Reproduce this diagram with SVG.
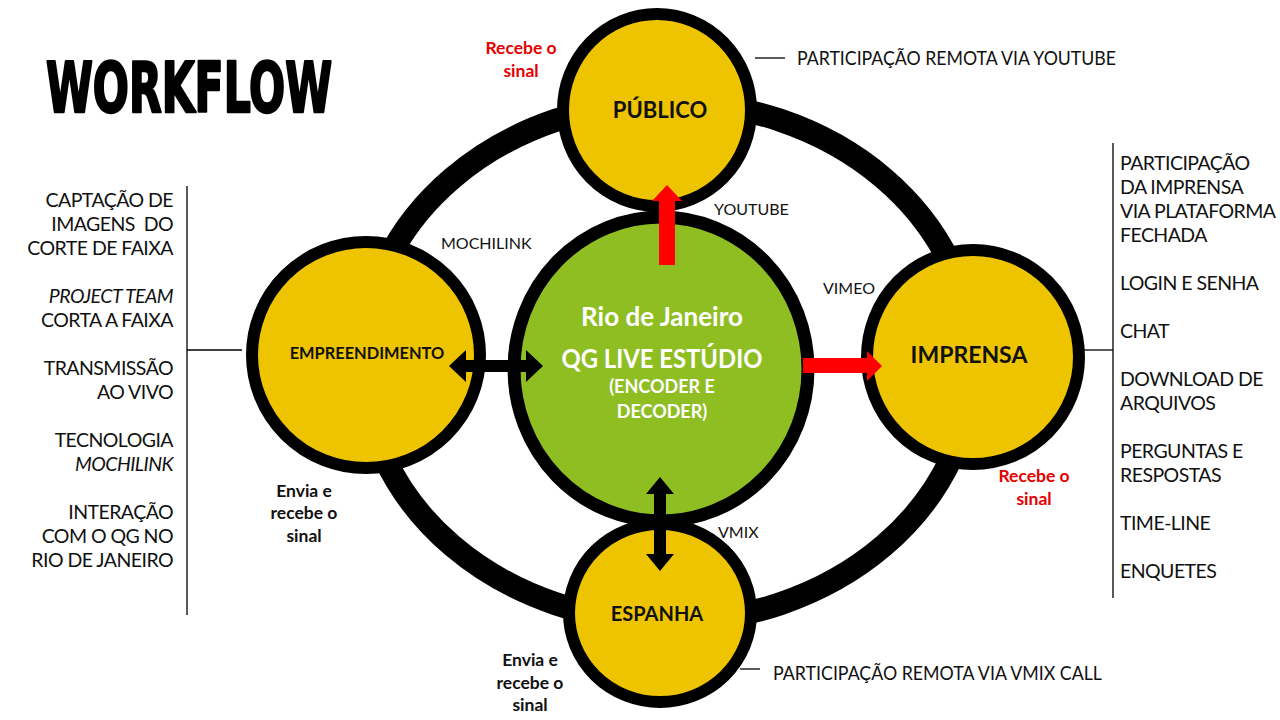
<svg xmlns="http://www.w3.org/2000/svg" width="1280" height="720" viewBox="0 0 1280 720">
<style>
.bg{fill:#ffffff}
.ring{fill:none;stroke:#000;stroke-width:23}
.node{fill:#EEC400;stroke:#000;stroke-width:12}
.hub{fill:#8FBE22;stroke:#000;stroke-width:13}
.red{fill:#FF0000}
.blk{fill:#000}
.rule{stroke:#000;stroke-width:1.3;fill:none}
text{font-family:Lato,"Open Sans","Liberation Sans",sans-serif}
.title{font-family:"DejaVu Sans Condensed","DejaVu Sans",sans-serif;font-weight:bold;font-size:70px;fill:#000;stroke:#000;stroke-width:2.5px;stroke-linejoin:round}
.list{font-size:19.5px;fill:#111;letter-spacing:-0.55px}
.lbl{font-size:16px;fill:#111}
.note{font-size:20px;fill:#111}
.nt{font-weight:bold;fill:#111;text-anchor:middle}
.sig{font-weight:bold;font-size:17.5px;text-anchor:middle}
.w{fill:#fff;font-weight:bold;text-anchor:middle}
.pre{white-space:pre}
</style>
<rect class="bg" x="0" y="0" width="1280" height="720"/>
<text class="title" x="46" y="112" textLength="286" lengthAdjust="spacingAndGlyphs">WORKFLOW</text>

<ellipse class="ring" cx="668" cy="362" rx="305" ry="260"/>

<g id="hub">
<ellipse class="hub" cx="661" cy="369" rx="147" ry="152"/>
<text class="w" x="662" y="326" font-size="26">Rio de Janeiro</text>
<text class="w" x="662" y="368" font-size="26" textLength="201" lengthAdjust="spacingAndGlyphs">QG LIVE ESTÚDIO</text>
<text class="w" x="662" y="393" font-size="18">(ENCODER E</text>
<text class="w" x="662" y="418" font-size="18">DECODER)</text>
</g>
<g id="publico">
<ellipse class="node" cx="657" cy="110" rx="94" ry="96"/>
<text class="nt" x="660" y="118" font-size="22">PÚBLICO</text>
</g>
<g id="empreendimento">
<ellipse class="node" cx="366" cy="355" rx="114" ry="113"/>
<text class="nt" x="367" y="359" font-size="16.4">EMPREENDIMENTO</text>
</g>
<g id="imprensa">
<ellipse class="node" cx="973" cy="357" rx="106" ry="107"/>
<text class="nt" x="969" y="363" font-size="23">IMPRENSA</text>
</g>
<g id="espanha">
<ellipse class="node" cx="660" cy="613" rx="91" ry="89"/>
<text class="nt" x="657" y="621" font-size="20">ESPANHA</text>
</g>

<g id="connectors">
<polygon class="red" points="659,265 675,265 675,201 682,201 667,185 652,201 659,201"/>
<polygon class="red" points="803,358 867,358 867,351 882,366 867,381 867,373 803,373"/>
<polygon class="blk" points="449,366 466,350 466,360 526,360 526,350 543,366 526,382 526,372 466,372 466,382"/>
<polygon class="blk" points="660,477 674,494 666,494 666,554 674,554 660,571 646,554 654,554 654,494 646,494"/>
<text class="lbl" x="714" y="215">YOUTUBE</text>
<text class="lbl" x="441" y="249">MOCHILINK</text>
<text class="lbl" x="823" y="294">VIMEO</text>
<text class="lbl" x="718" y="538">VMIX</text>
</g>

<g id="signals">
<text class="sig" x="521" y="54" fill="#E60000">Recebe o</text>
<text class="sig" x="521" y="77" fill="#E60000">sinal</text>
<text class="sig" x="1034" y="482" fill="#E60000">Recebe o</text>
<text class="sig" x="1034" y="505" fill="#E60000">sinal</text>
<text class="sig" x="304" y="497" fill="#111">Envia e</text>
<text class="sig" x="304" y="519" fill="#111">recebe o</text>
<text class="sig" x="304" y="542" fill="#111">sinal</text>
<text class="sig" x="530" y="666" fill="#111">Envia e</text>
<text class="sig" x="530" y="689" fill="#111">recebe o</text>
<text class="sig" x="530" y="711" fill="#111">sinal</text>
</g>

<g id="notes-top">
<line class="rule" x1="755" y1="58" x2="785" y2="58"/>
<text class="note" x="797" y="65" textLength="319" lengthAdjust="spacingAndGlyphs">PARTICIPAÇÃO REMOTA VIA YOUTUBE</text>
</g>
<g id="notes-bottom">
<line class="rule" x1="740" y1="669" x2="760" y2="669"/>
<text class="note" x="773" y="680" textLength="329" lengthAdjust="spacingAndGlyphs">PARTICIPAÇÃO REMOTA VIA VMIX CALL</text>
</g>

<g id="notes-left">
<line class="rule" x1="187" y1="186" x2="187" y2="615"/>
<line class="rule" x1="187" y1="350" x2="242" y2="350"/>
<g class="list" text-anchor="end">
<text x="173" y="207">CAPTAÇÃO DE</text>
<text class="pre" x="173" y="231">IMAGENS  DO</text>
<text x="173" y="255">CORTE DE FAIXA</text>
<text x="173" y="303" font-style="italic">PROJECT TEAM</text>
<text x="173" y="327">CORTA A FAIXA</text>
<text x="173" y="375">TRANSMISSÃO</text>
<text x="173" y="399">AO VIVO</text>
<text x="173" y="447">TECNOLOGIA</text>
<text x="173" y="471" font-style="italic">MOCHILINK</text>
<text x="173" y="519">INTERAÇÃO</text>
<text x="173" y="543">COM O QG NO</text>
<text x="173" y="567">RIO DE JANEIRO</text>
</g>
</g>

<g id="notes-right">
<line class="rule" x1="1113" y1="143" x2="1113" y2="598"/>
<line class="rule" x1="1083" y1="350" x2="1113" y2="350"/>
<g class="list">
<text x="1120" y="170">PARTICIPAÇÃO</text>
<text x="1120" y="194">DA IMPRENSA</text>
<text x="1120" y="218">VIA PLATAFORMA</text>
<text x="1120" y="242">FECHADA</text>
<text x="1120" y="290">LOGIN E SENHA</text>
<text x="1120" y="338">CHAT</text>
<text x="1120" y="386">DOWNLOAD DE</text>
<text x="1120" y="410">ARQUIVOS</text>
<text x="1120" y="458">PERGUNTAS E</text>
<text x="1120" y="482">RESPOSTAS</text>
<text x="1120" y="530">TIME-LINE</text>
<text x="1120" y="578">ENQUETES</text>
</g>
</g>
</svg>
